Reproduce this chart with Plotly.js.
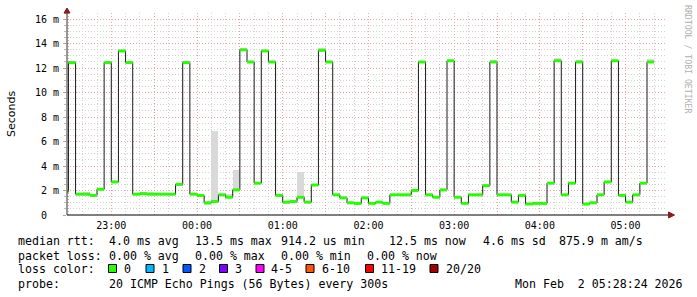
<!DOCTYPE html>
<html><head><meta charset="utf-8">
<script src="https://cdn.plot.ly/plotly-3.0.1.min.js"></script>
<style>html,body{margin:0;padding:0;background:#fff}#chart{width:697px;height:297px}</style>
</head><body><div id="chart"></div>
<script>
// ---- data (5-minute steps, first step starts 22:25) ----
const firstStepStartUTC = Date.UTC(2026, 1, 1, 22, 25, 0);
const stepMs = 300000;
const medianMs = [1.9,
  12.45, 1.7, 1.7, 1.6, 2.1, 12.45, 2.7, 13.4, 12.45, 1.7,
  1.75, 1.7, 1.7, 1.7, 1.7, 2.5, 12.45, 1.7, 1.6, 1.0,
  1.1, 1.65, 1.45, 2.05, 13.5, 12.5, 2.6, 13.4, 12.5, 1.6,
  1.05, 1.1, 1.45, 1.05, 2.45, 13.45, 12.5, 1.65, 1.4, 1.0,
  0.95, 1.4, 0.95, 1.05, 0.95, 1.65, 1.65, 1.65, 2.0, 12.5,
  1.65, 1.45, 2.05, 12.6, 1.45, 0.95, 1.65, 1.65, 2.4, 12.5,
  1.65, 1.65, 1.05, 1.6, 0.9, 0.95, 0.95, 2.6, 12.6, 1.65,
  2.6, 12.5, 0.9, 1.0, 1.65, 2.7, 12.6, 1.6, 1.05, 1.65,
  2.6, 12.5];
const smokeLoMs = [1.85,
  12.4, 1.65, 1.65, 1.55, 2.05, 12.4, 2.65, 13.35, 12.4, 1.65,
  1.7, 1.65, 1.65, 1.65, 1.65, 2.4, 12.4, 1.65, 1.45, 0.85,
  1.0, 1.6, 1.4, 2.0, 13.45, 12.45, 2.55, 13.35, 12.45, 1.55,
  0.9, 1.05, 1.4, 0.95, 2.4, 13.4, 12.45, 1.6, 1.35, 0.95,
  0.85, 1.35, 0.88, 1.0, 0.9, 1.6, 1.6, 1.6, 1.95, 12.45,
  1.6, 1.4, 2.0, 12.55, 1.4, 0.9, 1.6, 1.6, 2.3, 12.45,
  1.6, 1.6, 1.0, 1.55, 0.85, 0.9, 0.85, 2.55, 12.55, 1.6,
  2.55, 12.45, 0.85, 0.95, 1.6, 2.65, 12.55, 1.55, 1.0, 1.6,
  2.55, 12.45];
const smokeHiMs = [1.95,
  12.5, 1.75, 1.85, 1.65, 2.15, 12.5, 2.75, 13.45, 12.5, 1.75,
  1.8, 1.85, 1.75, 1.75, 1.75, 2.55, 12.5, 1.75, 1.65, 1.05,
  6.9, 1.7, 1.7, 3.7, 13.55, 12.55, 2.65, 13.45, 12.55, 1.65,
  1.1, 1.25, 3.5, 1.1, 2.5, 13.65, 12.55, 1.7, 1.45, 1.05,
  1.0, 1.45, 1.0, 1.1, 1.0, 1.7, 1.75, 1.7, 2.1, 12.55,
  1.7, 1.5, 2.15, 12.65, 1.55, 1.0, 1.7, 1.7, 2.45, 12.65,
  1.75, 1.7, 1.1, 1.7, 0.95, 1.0, 1.0, 2.65, 12.8, 1.7,
  2.65, 12.65, 0.95, 1.05, 1.7, 2.75, 12.7, 1.75, 1.1, 1.7,
  2.65, 12.75];
const xTickText = ['', '23:00', '', '00:00', '', '01:00', '', '02:00', '', '03:00', '', '04:00', '', '05:00'];
const yTickVals = [0, 2, 4, 6, 8, 10, 12, 14, 16];
const yTickText = ['0\u00a0\u00a0', '2 m', '4 m', '6 m', '8 m', '10 m', '12 m', '14 m', '16 m'];
const lossLabels = ['0', '1', '2', '3', '4-5', '6-10', '11-19', '20/20'];
const lossColors = ['#26ff00', '#00b8ff', '#0059ff', '#7e00ff', '#ff00ff', '#ff5500', '#ff0000', '#a10000'];
const legendLines = ['median rtt:', 'packet loss:', 'loss color:', 'probe:'];
const rttStats = ['4.0 ms avg', '13.5 ms max', '914.2 us min', '12.5 ms now', '4.6 ms sd', '875.9 m am/s'];
const lossStats = ['0.00 % avg', '0.00 % max', '0.00 % min', '0.00 % now'];
const probeText = '20 ICMP Echo Pings (56 Bytes) every 300s';
const stampText = 'Mon Feb  2 05:28:24 2026';

// ---- geometry helpers (pixel -> paper) ----
const W = 697, H = 297, L = 67, R = 667, T = 13, B = 215;
const px = x => (x - L) / (R - L);
const py = y => (B - y) / (B - T);

const stepStart = medianMs.map((_, i) => firstStepStartUTC + i * stepMs);
const lineX = stepStart.concat([stepStart[stepStart.length - 1] + stepMs]);
const lineY = medianMs.concat([medianMs[medianMs.length - 1]]);
const greenX = [], greenY = [];
medianMs.forEach((v, i) => { greenX.push(stepStart[i], stepStart[i] + stepMs, null); greenY.push(v, v, null); });

const traces = [
  { type: 'bar', x: stepStart.map(t => t + stepMs / 2), base: smokeLoMs,
    y: smokeHiMs.map((h, i) => h - smokeLoMs[i]), width: stepMs,
    marker: { color: '#d9d9d9', line: { width: 0 } }, hoverinfo: 'skip' },
  { type: 'scatter', mode: 'lines', x: lineX, y: lineY, line: { shape: 'hv', color: '#1a1a1a', width: 1 }, hoverinfo: 'skip' },
  { type: 'scatter', mode: 'lines', x: greenX, y: greenY, connectgaps: false, line: { color: lossColors[0], width: 3 }, hoverinfo: 'skip' }
];

const tickVals = xTickText.map((_, i) => Date.UTC(2026, 1, 1, 22, 30) + i * 1800000);
const mono = 'DejaVu Sans Mono';

const shapes = [
  { type: 'line', xref: 'paper', yref: 'paper', x0: 0, x1: px(669), y0: 0, y1: 0, line: { color: '#000', width: 1 } },
  { type: 'line', xref: 'paper', yref: 'paper', x0: 0, x1: 0, y0: 0, y1: py(11), line: { color: '#333', width: 1 } },
  { type: 'path', xref: 'paper', yref: 'paper', fillcolor: '#8b1a1a', line: { color: '#8b1a1a', width: 1 },
    path: `M ${px(64)} ${py(13)} L ${px(70)} ${py(13)} L ${px(67)} ${py(8)} Z` },
  { type: 'path', xref: 'paper', yref: 'paper', fillcolor: '#8b1a1a', line: { color: '#8b1a1a', width: 1 },
    path: `M ${px(668.5)} ${py(212)} L ${px(668.5)} ${py(218)} L ${px(674.5)} ${py(215)} Z` }
];
const boxX = [108.5, 146, 183, 219.5, 256, 306, 365.5, 430];
const labelX = [121.5, 160, 196.5, 233.3, 269.3, 320, 378.7, 443.7];
lossColors.forEach((c, i) => {
  shapes.push({ type: 'rect', xref: 'paper', yref: 'paper', x0: px(boxX[i]), x1: px(boxX[i] + 8),
    y0: py(272.5), y1: py(264.5), fillcolor: c, line: { color: '#000', width: 1 } });
});

const ann = [];
function txt(x, y, s, opts) {
  ann.push(Object.assign({ xref: 'paper', yref: 'paper', x: px(x), y: py(y), text: s, showarrow: false,
    xanchor: 'left', yanchor: 'middle', font: { family: mono, size: 11.6, color: '#000' } }, opts || {}));
}
const nb = s => s.replace(/ /g, '\u00a0');
const row1Y = 241.5, row2Y = 255.5, row3Y = 268.5, row4Y = 283.5;
txt(16, row1Y, nb(legendLines[0]));
const rttX = [107.3, 193.3, 279.3, 387, 481, 557];
rttStats.forEach((s, i) => txt(rttX[i], row1Y, nb(s)));
txt(16, row2Y, nb(legendLines[1]));
const lossX = [107.3, 193.3, 279.3, 365.3];
lossStats.forEach((s, i) => txt(lossX[i], row2Y, nb(s)));
txt(16, row3Y, nb(legendLines[2]));
lossLabels.forEach((s, i) => txt(labelX[i], row3Y, s));
txt(16, row4Y, nb(legendLines[3]));
txt(107.3, row4Y, nb(probeText));
txt(512.7, row4Y, nb(stampText));
ann.push({ xref: 'paper', yref: 'paper', x: px(11), y: py(114), text: 'Seconds', textangle: -90, showarrow: false,
  xanchor: 'center', yanchor: 'middle', font: { family: 'DejaVu Sans', size: 11, color: '#000' } });
ann.push({ xref: 'paper', yref: 'paper', x: px(688), y: py(59), text: nb('RRDTOOL / TOBI OETIKER'), textangle: 90, showarrow: false,
  xanchor: 'center', yanchor: 'middle', font: { family: mono, size: 8.2, color: '#b0b0b0' } });

const layout = {
  width: W, height: H, margin: { l: L, r: W - R, t: T, b: H - B, pad: 0 },
  paper_bgcolor: '#fff', plot_bgcolor: '#fff', showlegend: false, barmode: 'overlay', bargap: 0,
  xaxis: { type: 'date', range: [Date.UTC(2026, 1, 1, 22, 29), Date.UTC(2026, 1, 2, 5, 29)],
    tickmode: 'array', tickvals: tickVals, ticktext: xTickText,
    showgrid: true, gridcolor: '#e6a3a3', griddash: '1px,2px', gridwidth: 1,
    minor: { tick0: Date.UTC(2026, 1, 1, 22, 30), dtick: 600000, showgrid: true, gridcolor: '#d2d2d2', griddash: '1px,2px', ticks: '' },
    ticks: '', ticklabelstandoff: 3, zeroline: false, showline: false,
    tickfont: { family: mono, size: 10, color: '#000' }, fixedrange: true },
  yaxis: { range: [0, 16.5], tickmode: 'array', tickvals: yTickVals, ticktext: yTickText,
    showgrid: true, gridcolor: '#e6a3a3', griddash: '1px,2px', gridwidth: 1,
    minor: { dtick: 0.5, showgrid: true, gridcolor: '#d2d2d2', griddash: '1px,2px', ticks: 'outside', ticklen: 2, tickcolor: '#bbb' },
    ticks: 'outside', ticklen: 3, tickcolor: '#c99', ticklabelstandoff: 2, zeroline: false, showline: false,
    tickfont: { family: mono, size: 10, color: '#000' }, fixedrange: true },
  shapes: shapes, annotations: ann
};
Plotly.newPlot('chart', traces, layout, { staticPlot: true, displayModeBar: false });
</script></body></html>
